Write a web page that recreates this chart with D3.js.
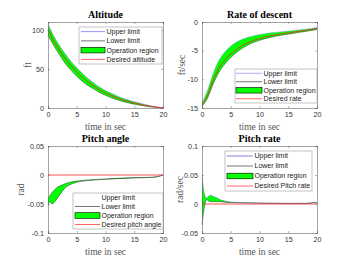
<!DOCTYPE html>
<html lang="en">
<head>
	<title>Flight profiles</title>
	<script src="https://d3js.org/d3.v7.min.js" charset="utf-8"></script>
	<style>
		body { margin: 0; background: #fff; }
		.tick text { font-family: "Liberation Sans", Arial, sans-serif; font-size: 7.2px; fill: #333; }
		.title { font-family: "Liberation Serif", "Times New Roman", serif; font-weight: bold; font-size: 10px; fill: #000; }
		.label { font-family: "Liberation Serif", "Times New Roman", serif; font-size: 9.5px; fill: #555; }
		.legend text { font-family: "Liberation Sans", Arial, sans-serif; font-size: 7px; fill: #222; }
	</style>
</head>
<body>
	<script>
		// ---- data ----
		var timeAlt = [0, 1, 2, 3, 4, 5, 6, 7, 8, 9, 10, 11, 12, 13, 14, 15, 16, 17, 18, 19, 20];
		var altDesired = [100, 86, 74, 63, 54, 46, 39, 33, 28, 23, 19.4, 16, 13, 10.5, 8.3, 6.4, 4.8, 3.3, 2, 1, 0];
		var altUpper = [107, 92, 80, 69, 59.5, 51.5, 44, 37.5, 31.8, 26.5, 22.5, 18.8, 15.5, 12.6, 10.1, 7.9, 6, 4.3, 2.7, 1.4, 0];
		var altLower = [93, 80, 68, 57, 48.5, 40.5, 34, 28.5, 24.2, 19.5, 16.3, 13.2, 10.5, 8.4, 6.5, 4.9, 3.6, 2.3, 1.3, 0.6, 0];

		var timeRate = [0, 1, 2, 3, 4, 5, 6, 7, 8, 9, 10, 11, 12, 13, 14, 15, 16, 17, 18, 19, 20];
		var rateDesired = [-14.5, -12.7, -10.0, -8.0, -6.6, -5.6, -4.8, -4.1, -3.6, -3.2, -2.9, -2.6, -2.4, -2.2, -2.05, -1.9, -1.75, -1.6, -1.45, -1.3, -1.1];
		var rateUpper = [-14.1, -11.8, -8.8, -6.6, -5.2, -4.2, -3.5, -3.0, -2.65, -2.4, -2.2, -2.02, -1.88, -1.78, -1.68, -1.58, -1.48, -1.37, -1.26, -1.15, -0.95];
		var rateLower = [-14.7, -13.2, -10.7, -8.7, -7.3, -6.2, -5.3, -4.6, -4.0, -3.55, -3.2, -2.9, -2.65, -2.45, -2.28, -2.12, -1.96, -1.8, -1.64, -1.48, -1.3];

		var timePitch = [0, 0.3, 0.7, 1, 1.5, 2, 2.5, 3, 4, 5, 7, 10, 15, 18, 19, 20];
		var pitchDesired = [0, 0, 0, 0, 0, 0, 0, 0, 0, 0, 0, 0, 0, 0, 0, 0];
		var pitchUpper = [-0.04, -0.036, -0.03, -0.027, -0.022, -0.019, -0.017, -0.015, -0.012, -0.0105, -0.0085, -0.0068, -0.0045, -0.0038, -0.0028, 0];
		var pitchLower = [-0.052, -0.046, -0.05, -0.048, -0.042, -0.035, -0.028, -0.022, -0.016, -0.0125, -0.0095, -0.0075, -0.005, -0.0042, -0.003, 0];

		var timeQ = [0, 0.2, 0.4, 0.6, 0.8, 1, 1.5, 2, 2.5, 3, 4, 5, 7, 10, 15, 18, 19, 19.5, 20];
		var qDesired = [0, 0, 0, 0, 0, 0, 0, 0, 0, 0, 0, 0, 0, 0, 0, 0, 0, 0, 0];
		var qUpper = [0.047, 0.03, 0.018, 0.012, 0.01, 0.012, 0.015, 0.013, 0.011, 0.008, 0.005, 0.0035, 0.0025, 0.0018, 0.0012, 0.0012, 0.002, 0.003, 0.0025];
		var qLower = [-0.036, -0.02, -0.006, 0.003, 0.008, 0.006, 0.004, 0.004, 0.004, 0.004, 0.003, 0.0025, 0.002, 0.0013, 0.0009, 0.001, 0.0015, 0.0025, 0.002];

		var xTicks = [0, 5, 10, 15, 20];

		var panels = [
			{ title: "Altitude", ylabel: "ft", t: timeAlt, des: altDesired, up: altUpper, lo: altLower,
			  ydom: [0, 110], yticks: [0, 50, 100], legendNames: ["Upper limit", "Lower limit", "Operation region", "Desired altitude"],
			  box: [48, 22, 115, 86], ylx: 28, leg: { x: 79, y: 27, w: 83, h: 37, lx: 81, lw: 24 }, upColor: "#7777ff" },
			{ title: "Rate of descent", ylabel: "ft/sec", t: timeRate, des: rateDesired, up: rateUpper, lo: rateLower,
			  ydom: [-15, 0], yticks: [-15, -10, -5, 0], legendNames: ["Upper limit", "Lower limit", "Operation region", "Desired rate"],
			  box: [202, 22, 115, 86], ylx: 182, leg: { x: 235, y: 69, w: 82, h: 34, lx: 236, lw: 26 }, upColor: "#9999ff" },
			{ title: "Pitch angle", ylabel: "rad", t: timePitch, des: pitchDesired, up: pitchUpper, lo: pitchLower,
			  ydom: [-0.1, 0.05], yticks: [-0.1, -0.05, 0, 0.05], legendNames: ["Upper limit", "Lower limit", "Operation region", "Desired pitch angle"],
			  box: [48, 146, 115, 87], ylx: 21, leg: { x: 73, y: 193, w: 90, h: 36, lx: 75, lw: 25 }, upColor: "#ffffff" },
			{ title: "Pitch rate", ylabel: "rad/sec", t: timeQ, des: qDesired, up: qUpper, lo: qLower,
			  ydom: [-0.05, 0.1], yticks: [-0.05, 0, 0.05, 0.1], legendNames: ["Upper limit", "Lower limit", "Operation region", "Desired Pitch rate"],
			  box: [202, 146, 115, 87], ylx: 180, leg: { x: 225, y: 151, w: 87, h: 40, lx: 227, lw: 26 }, upColor: "#6666cc" }
		];

		var svg = d3.select("body").append("svg")
			.attr("width", 350)
			.attr("height", 263);

		panels.forEach(function(p) {
			var bx = p.box[0], by = p.box[1], bw = p.box[2], bh = p.box[3];
			var x = d3.scaleLinear().domain([0, 20]).range([bx, bx + bw]);
			var y = d3.scaleLinear().domain(p.ydom).range([by + bh, by]);
			var g = svg.append("g");

			var idx = d3.range(p.t.length);

			// operation region
			var area = d3.area()
				.curve(d3.curveMonotoneX)
				.x(function(i) { return x(p.t[i]); })
				.y0(function(i) { return y(p.lo[i]); })
				.y1(function(i) { return y(p.up[i]); });
			g.append("path").datum(idx).attr("d", area).attr("fill", "#00ff00");

			var line = function(arr) {
				return d3.line().curve(d3.curveMonotoneX)
					.x(function(i) { return x(p.t[i]); })
					.y(function(i) { return y(arr[i]); });
			};
			g.append("path").datum(idx).attr("d", line(p.up)).attr("fill", "none")
				.attr("stroke", p.upColor === "#ffffff" ? "#224422" : p.upColor).attr("stroke-width", 0.5);
			g.append("path").datum(idx).attr("d", line(p.lo)).attr("fill", "none")
				.attr("stroke", "#333").attr("stroke-width", 0.5);
			g.append("path").datum(idx).attr("d", line(p.des)).attr("fill", "none")
				.attr("stroke", "#ff2020").attr("stroke-width", 0.8);

			// axes
			var fmt = function(d) { return String(d); };
			var xb = g.append("g").attr("transform", "translate(0," + (by + bh) + ")")
				.call(d3.axisBottom(x).tickValues(xTicks).tickSize(-2).tickPadding(4).tickFormat(fmt));
			var xt = g.append("g").attr("transform", "translate(0," + by + ")")
				.call(d3.axisTop(x).tickValues(xTicks).tickSize(-2).tickFormat(""));
			var yl = g.append("g").attr("transform", "translate(" + bx + ",0)")
				.call(d3.axisLeft(y).tickValues(p.yticks).tickSize(-2).tickPadding(4).tickFormat(fmt));
			var yr = g.append("g").attr("transform", "translate(" + (bx + bw) + ",0)")
				.call(d3.axisRight(y).tickValues(p.yticks).tickSize(-2).tickFormat(""));
			[xb, xt, yl, yr].forEach(function(a) {
				a.select(".domain").attr("stroke", "#666").attr("stroke-width", 0.6);
				a.selectAll(".tick line").attr("stroke", "#666").attr("stroke-width", 0.5);
			});

			g.append("text").attr("class", "title")
				.attr("x", bx + bw / 2).attr("y", by - 4)
				.attr("text-anchor", "middle").text(p.title);
			g.append("text").attr("class", "label")
				.attr("x", bx + bw / 2).attr("y", by + bh + 22)
				.attr("text-anchor", "middle").text("time in sec");
			g.append("text").attr("class", "label")
				.attr("transform", "translate(" + p.ylx + "," + (by + bh / 2) + ") rotate(-90)")
				.attr("text-anchor", "middle").attr("dy", "0.35em").text(p.ylabel);

			// legend
			var L = p.leg;
			var lg = g.append("g").attr("class", "legend");
			lg.append("rect").attr("x", L.x).attr("y", L.y).attr("width", L.w).attr("height", L.h)
				.attr("fill", "#fff").attr("stroke", "#888").attr("stroke-width", 0.5);
			var step = L.h / 4;
			p.legendNames.forEach(function(name, k) {
				var cy = L.y + step * (k + 0.5);
				if (k === 2) {
					lg.append("rect").attr("x", L.lx).attr("y", cy - 2.8).attr("width", L.lw).attr("height", 5.6)
						.attr("fill", "#00ff00").attr("stroke", "#000").attr("stroke-width", 0.6);
				} else {
					var col = k === 0 ? p.upColor : (k === 1 ? "#555" : "#ff4040");
					lg.append("line").attr("x1", L.lx).attr("x2", L.lx + L.lw).attr("y1", cy).attr("y2", cy)
						.attr("stroke", col).attr("stroke-width", 0.8);
				}
				lg.append("text").attr("x", L.lx + L.lw + 1.5).attr("y", cy).attr("dy", "0.35em").text(name);
			});
		});
	</script>
</body>
</html>
